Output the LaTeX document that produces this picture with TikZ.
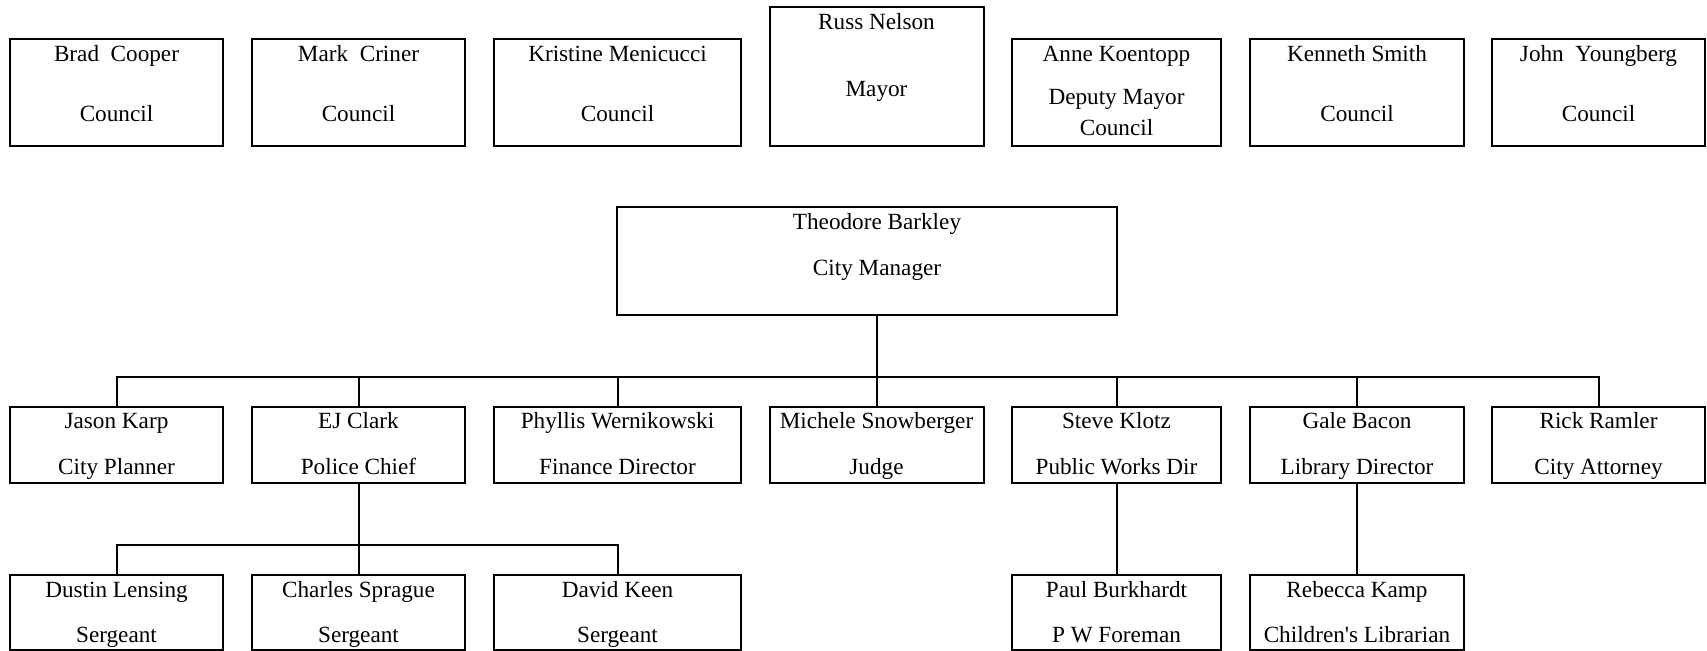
\documentclass[tikz,border=0pt]{standalone}
\usepackage{fontspec}
\setmainfont{Liberation Serif}
\begin{document}
\begin{tikzpicture}[x=0.5pt, y=-0.5pt, line width=1pt, font=\fontsize{11.6}{14}\selectfont,
	card/.style 2 args={draw, line width=1pt, inner sep=0pt, minimum width=#1*0.5pt, minimum height=#2*0.5pt},
	lines/.style n args={4}{label={[anchor=base, yshift=-#3*0.5pt]north:#1}, label={[anchor=base, yshift=-#4*0.5pt]north:#2}}]
			\useasboundingbox (0,0) rectangle (1707,651);
			\path 
			(0,377) coordinate (bus)
			(0,545) coordinate (sub)
			;
			% council and mayor
			\foreach \n/\x/\w/\a/\b in {cooper/116.5/213/Brad\ \ Cooper/Council, criner/358.5/213/Mark\ \ Criner/Council, menicucci/617.5/247/Kristine Menicucci/Council, smith/1357/214/Kenneth Smith/Council, youngberg/1598.5/213/John\ \ Youngberg/Council}
			\node[card={\w}{107}, lines={\a}{\b}{24}{84}] (\n) at (\x,92.5) {};
			\node[card={214}{139}, lines={Russ Nelson}{Mayor}{24}{91}] (nelson) at (876.5,76.5) {};
			\node[card={209}{107}, lines={Anne Koentopp}{Deputy Mayor}{24}{67}, label={[anchor=base, yshift=-49pt]north:Council}] (koentopp) at (1116.5,92.5) {};
			% city manager
			\node[card={500}{108}, label={[anchor=base, xshift=5pt, yshift=-12pt]north:Theodore Barkley}, label={[anchor=base, xshift=5pt, yshift=-35pt]north:City Manager}] (barkley) at (867,261) {};
			% department heads
			\foreach \n/\x/\w/\a/\b in {karp/116.5/213/Jason Karp/City Planner, clark/358.5/213/EJ Clark/Police Chief, wernikowski/617.5/247/Phyllis Wernikowski/Finance Director, snowberger/876.5/214/Michele Snowberger/Judge, klotz/1116.5/209/Steve Klotz/Public Works Dir, bacon/1357/214/Gale Bacon/Library Director, ramler/1598.5/213/Rick Ramler/City Attorney}
			\node[card={\w}{76}, lines={\a}{\b}{23}{69}] (\n) at (\x,445) {};
			% staff
			\foreach \n/\x/\w/\a/\b in {lensing/116.5/213/Dustin Lensing/Sergeant, sprague/358.5/213/Charles Sprague/Sergeant, keen/617.5/247/David Keen/Sergeant, burkhardt/1116.5/209/Paul Burkhardt/P W Foreman, kamp/1357/214/Rebecca Kamp/Children\textquotesingle s Librarian}
			\node[card={\w}{75}, lines={\a}{\b}{23}{68}] (\n) at (\x,612.5) {};
			% connectors
			\draw (barkley.south -| snowberger.north) -- (snowberger.north);
			\draw (karp.north) -- (karp.north |- bus) -- (ramler.north |- bus) -- (ramler.north);
			\foreach \n in {clark,wernikowski,klotz,bacon}
			\draw (\n.north) -- (\n.north |- bus);
			\draw (clark.south) -- (sprague.north);
			\draw (lensing.north) -- (lensing.north |- sub) -- (keen.north |- sub) -- (keen.north);
			\draw (klotz.south) -- (burkhardt.north) (bacon.south) -- (kamp.north);
			\end{tikzpicture}
\end{document}
